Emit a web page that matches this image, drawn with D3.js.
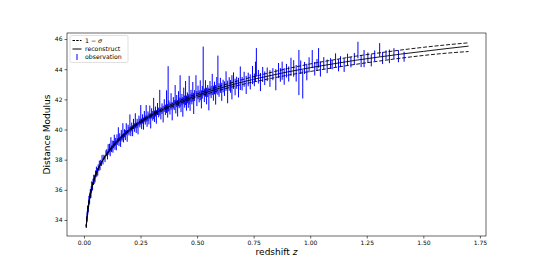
<!DOCTYPE html>
<html>
<head>
<meta charset="utf-8">
<script src="https://cdn.jsdelivr.net/npm/d3@7"></script>
<style>
  body { margin: 0; background: #fff; }
  text { font-family: "DejaVu Sans", sans-serif; }
</style>
</head>
<body>
<div class="chart"></div>
<script>
// reconstructed curve and 1-sigma band
const recZ  = [0.010,0.012,0.015,0.020,0.025,0.030,0.040,0.050,0.060,0.070,0.080,0.100,0.125,0.150,0.200,0.250,0.300,0.350,0.400,0.500,0.600,0.700,0.800,0.900,1.000,1.100,1.200,1.300,1.400,1.500,1.600,1.700];
const recMu = [33.56,33.92,34.38,34.98,35.44,35.82,36.44,36.91,37.29,37.61,37.89,38.36,38.85,39.27,39.96,40.51,40.96,41.34,41.68,42.26,42.74,43.15,43.50,43.82,44.10,44.35,44.59,44.80,45.00,45.18,45.36,45.53];
const recUp = [33.60,33.96,34.42,35.02,35.48,35.86,36.48,36.95,37.33,37.65,37.93,38.41,38.90,39.33,40.02,40.58,41.03,41.42,41.77,42.37,42.87,43.31,43.69,44.04,44.35,44.61,44.86,45.07,45.27,45.45,45.61,45.75];
const recLo = [33.52,33.88,34.34,34.94,35.40,35.78,36.40,36.87,37.25,37.57,37.85,38.31,38.80,39.21,39.90,40.44,40.89,41.26,41.59,42.15,42.61,42.99,43.31,43.60,43.85,44.09,44.32,44.53,44.73,44.91,45.06,45.17];

// observations: redshift, distance modulus, error
const obsZ = [
  0.010,0.011,0.012,0.013,0.014,0.015,0.016,0.017,0.018,0.019,0.020,0.021,0.022,0.023,0.024,0.025,0.026,0.027,0.028,0.029,
  0.030,0.031,0.032,0.033,0.034,0.036,0.037,0.038,0.040,0.042,0.043,0.045,0.047,0.049,0.051,0.053,0.055,0.057,0.059,0.061,
  0.063,0.066,0.068,0.071,0.074,0.077,0.080,0.084,0.088,0.093,0.097,
  0.101,0.104,0.107,0.110,0.113,0.116,0.119,0.122,0.125,0.128,0.131,0.134,0.137,0.140,0.143,0.146,0.149,0.152,0.155,0.158,
  0.162,0.165,0.168,0.172,0.175,0.179,0.183,0.187,0.191,0.195,0.199,0.203,0.207,0.211,0.215,0.219,0.223,0.227,0.231,0.235,
  0.239,0.243,0.247,0.251,0.255,0.259,0.263,0.267,0.271,0.275,0.279,0.283,0.287,0.291,0.295,0.299,0.304,0.308,0.312,0.316,
  0.320,0.325,0.330,0.335,0.340,0.345,0.350,0.355,0.360,0.365,0.370,0.372,0.375,0.380,0.385,0.390,0.395,0.399,
  0.403,0.406,0.410,0.414,0.418,0.421,0.425,0.429,0.433,0.437,0.441,0.445,0.449,0.453,0.457,0.461,0.465,0.469,0.473,0.477,
  0.481,0.485,0.489,0.495,0.499,0.504,0.509,0.514,0.519,0.523,0.527,0.532,0.537,0.542,0.547,0.552,0.557,0.562,0.567,0.572,
  0.577,0.582,0.587,0.592,0.597,0.603,0.609,0.615,0.621,0.628,0.635,0.642,0.648,0.654,0.661,0.668,0.675,0.683,0.691,0.699,
  0.708,0.717,0.726,0.735,0.745,0.753,0.758,0.762,0.771,0.780,0.790,0.799,
  0.810,0.822,0.835,0.848,0.860,0.868,0.876,0.885,0.895,0.905,0.915,0.927,0.938,0.950,0.958,0.967,0.975,0.985,0.995,1.009,
  1.020,1.030,1.037,1.045,
  1.060,1.075,1.090,1.097,1.112,1.125,1.134,1.150,1.165,1.180,1.195,1.211,1.225,1.238,1.255,1.270,1.285,1.307,1.320,1.335,
  1.350,1.370,1.390,1.415
];
const obsMu = [
  33.61,33.65,34.04,33.99,34.37,34.33,34.71,34.51,34.82,34.72,35.08,35.02,35.36,35.17,35.41,35.30,35.64,35.57,35.83,35.62,
  35.86,35.70,36.05,35.97,36.30,36.11,36.34,36.18,36.56,36.48,36.78,36.58,36.85,36.71,37.09,36.99,37.30,37.06,37.29,37.17,
  37.50,37.41,37.71,37.51,37.81,37.74,38.07,37.87,38.16,38.06,38.42,
  38.48,38.27,38.73,38.52,38.78,38.49,39.04,38.72,38.97,38.74,39.01,39.26,38.94,39.19,38.94,39.38,39.20,39.65,39.20,39.49,
  39.20,39.65,39.45,39.87,39.45,39.75,39.63,40.02,39.57,40.02,39.89,40.40,39.89,40.17,39.92,40.37,40.13,40.58,40.12,40.41,
  40.10,40.59,40.43,40.97,40.38,40.70,40.39,40.87,40.63,41.07,40.56,40.88,40.70,41.14,40.57,41.07,40.91,41.40,40.88,41.19,
  40.84,41.36,41.13,41.78,41.07,41.38,41.02,41.59,41.31,41.85,41.24,42.70,41.57,41.40,41.86,41.21,41.77,41.62,
  42.35,41.52,41.89,41.41,42.04,41.76,42.55,41.63,41.98,41.50,42.23,41.85,42.42,41.75,42.10,41.89,42.61,41.79,42.23,42.05,
  42.50,41.73,42.25,42.95,42.05,42.46,42.20,42.60,42.00,42.47,43.90,42.27,42.72,42.22,42.55,42.02,42.74,42.48,42.99,42.41,
  42.75,42.30,42.93,43.60,42.62,42.93,42.50,42.88,42.71,43.21,42.49,43.02,42.86,42.80,43.24,42.82,43.10,42.78,43.40,43.04,
  43.33,42.96,43.32,43.16,43.61,43.29,43.85,44.45,43.50,43.15,43.65,43.40,
  43.66,43.38,43.67,43.30,43.91,43.62,43.90,43.52,43.90,43.68,44.16,44.05,43.73,43.78,44.13,43.00,44.08,43.81,44.29,44.67,
  44.03,44.28,44.75,44.01,
  44.40,44.19,44.38,44.29,44.60,44.26,44.51,44.27,44.63,44.47,44.68,45.27,44.54,44.70,44.76,44.59,44.89,45.28,44.74,44.95,
  44.85,45.04,44.86,44.83
];
const obsErr = [
  0.12,0.15,0.18,0.14,0.20,0.16,0.22,0.15,0.18,0.20,0.17,0.15,0.24,0.16,0.19,0.21,0.18,0.15,0.22,0.17,
  0.16,0.23,0.18,0.15,0.26,0.17,0.16,0.20,0.18,0.16,0.22,0.19,0.15,0.21,0.19,0.16,0.24,0.18,0.16,0.22,
  0.19,0.17,0.23,0.20,0.18,0.16,0.25,0.19,0.17,0.22,0.20,
  0.22,0.25,0.30,0.20,0.28,0.26,0.45,0.22,0.30,0.27,0.24,0.40,0.28,0.25,0.32,0.30,0.22,0.50,0.30,0.26,
  0.35,0.32,0.24,0.55,0.30,0.27,0.33,0.40,0.38,0.30,0.28,0.60,0.33,0.29,0.36,0.34,0.28,0.50,0.35,0.30,
  0.42,0.33,0.29,0.65,0.35,0.31,0.40,0.36,0.30,0.55,0.38,0.32,0.36,0.45,0.50,0.34,0.32,0.70,0.38,0.33,
  0.45,0.40,0.32,0.85,0.40,0.35,0.55,0.42,0.34,0.75,0.45,1.50,0.36,0.40,0.55,0.60,0.38,0.33,
  0.60,0.45,0.40,0.55,0.50,0.35,1.05,0.48,0.38,0.65,0.55,0.40,0.80,0.50,0.36,0.45,0.95,0.55,0.40,0.38,
  0.65,0.70,0.36,0.65,0.50,0.45,0.40,0.66,0.60,0.42,1.60,0.45,0.55,0.55,0.40,0.75,0.48,0.40,0.70,0.50,
  0.42,0.65,0.55,1.30,0.45,0.50,0.60,0.42,0.48,0.65,0.75,0.45,0.42,0.80,0.55,0.55,0.40,0.65,0.78,0.45,
  0.50,0.60,0.45,0.50,0.60,0.42,0.65,0.95,0.45,0.60,0.50,0.45,
  0.45,0.55,0.40,0.70,0.50,0.45,0.60,0.55,0.45,0.50,0.60,0.55,0.55,1.50,0.45,0.94,0.40,0.55,0.50,0.60,
  0.45,0.40,0.65,0.50,
  0.40,0.45,0.35,0.30,0.45,0.40,0.35,0.45,0.40,0.35,0.40,0.55,0.40,0.57,0.35,0.40,0.35,0.45,0.40,0.30,
  0.45,0.35,0.40,0.33
];

const xTicks = [0, 0.25, 0.5, 0.75, 1.0, 1.25, 1.5, 1.75];
const yTicks = [34, 36, 38, 40, 42, 44, 46];

//SET UP for svg wrapper
let svgWidth = 540;
let svgHeight = 270;
const margin = {top: 33, right: 54, bottom: 34, left: 67};
let chartWidth = svgWidth - margin.left - margin.right;
let chartHeight = svgHeight - margin.top - margin.bottom;

let svg = d3.select(".chart")
            .append("svg")
            .attr("width", svgWidth)
            .attr("height", svgHeight);

let chart = svg.append("g")
               .attr("transform", `translate(${margin.left},${margin.top})`);

//scales
let xScale = d3.scaleLinear()
               .domain([-0.075, 1.777])
               .range([0, chartWidth]);
let yScale = d3.scaleLinear()
               .domain([32.94, 46.4])
               .range([chartHeight, 0]);

//error bars for the observations
chart.append("g")
     .selectAll("line")
     .data(obsZ.map((z, i) => ({z: z, mu: obsMu[i], err: obsErr[i]})))
     .enter().append("line")
     .attr("x1", d => xScale(d.z))
     .attr("x2", d => xScale(d.z))
     .attr("y1", d => yScale(d.mu - d.err))
     .attr("y2", d => yScale(d.mu + d.err))
     .attr("stroke", "#0000ff")
     .attr("stroke-width", 1);

//reconstruct + 1 sigma lines on top
const lineOf = arr => d3.line()
    .x((d, i) => xScale(recZ[i]))
    .y((d, i) => yScale(arr[i]))
    .curve(d3.curveMonotoneX)(arr);

[recUp, recLo].forEach(arr => {
  chart.append("path")
       .attr("d", lineOf(arr))
       .attr("fill", "none")
       .attr("stroke", "#000")
       .attr("stroke-width", 0.9)
       .attr("stroke-dasharray", "4,1.8");
});
chart.append("path")
     .attr("d", lineOf(recMu))
     .attr("fill", "none")
     .attr("stroke", "#000")
     .attr("stroke-width", 0.9);

//axes
let bottomAxis = d3.axisBottom(xScale)
                   .tickValues(xTicks)
                   .tickFormat(d3.format(".2f"))
                   .tickSizeOuter(0)
                   .tickSize(2.5)
                   .tickPadding(2);
let leftAxis = d3.axisLeft(yScale)
                 .tickValues(yTicks)
                 .tickFormat(d3.format("d"))
                 .tickSizeOuter(0)
                 .tickSize(2.5)
                 .tickPadding(2);

chart.append("g")
     .attr("transform", `translate(0,${chartHeight})`)
     .call(bottomAxis)
     .call(g => g.select(".domain").remove());
chart.append("g")
     .call(leftAxis)
     .call(g => g.select(".domain").remove());

chart.selectAll(".tick text")
     .attr("font-family", "DejaVu Sans")
     .attr("font-size", 6)
     .attr("fill", "#000");
chart.selectAll(".tick line")
     .attr("stroke", "#000")
     .attr("stroke-width", 0.6);

//frame
chart.append("rect")
     .attr("width", chartWidth)
     .attr("height", chartHeight)
     .attr("fill", "none")
     .attr("stroke", "#000")
     .attr("stroke-width", 0.6);

//axis labels
svg.append("text")
   .attr("x", margin.left + chartWidth / 2)
   .attr("y", 255)
   .attr("text-anchor", "middle")
   .attr("font-size", 9)
   .html('redshift <tspan font-style="italic">z</tspan>');

svg.append("text")
   .attr("transform", `translate(50,${margin.top + chartHeight / 2}) rotate(-90)`)
   .attr("text-anchor", "middle")
   .attr("font-size", 9)
   .text("Distance Modulus");

//legend
let legend = chart.append("g").attr("transform", "translate(3,2.5)");
legend.append("rect")
      .attr("width", 58)
      .attr("height", 27)
      .attr("rx", 1.5)
      .attr("fill", "#fff")
      .attr("fill-opacity", 0.8)
      .attr("stroke", "#ccc")
      .attr("stroke-width", 0.6);

legend.append("line").attr("x1", 2.5).attr("x2", 11.5).attr("y1", 5).attr("y2", 5)
      .attr("stroke", "#000").attr("stroke-width", 1).attr("stroke-dasharray", "2.5,1.2");
legend.append("line").attr("x1", 2.5).attr("x2", 11.5).attr("y1", 13.5).attr("y2", 13.5)
      .attr("stroke", "#000").attr("stroke-width", 1);
legend.append("line").attr("x1", 7).attr("x2", 7).attr("y1", 18.5).attr("y2", 24.5)
      .attr("stroke", "#0000ff").attr("stroke-width", 1);

const legendRows = [
  {y: 7.2, html: '1 − <tspan font-style="italic">σ</tspan>'},
  {y: 15.7, html: 'reconstruct'},
  {y: 23.7, html: 'observation'}
];
legend.selectAll("text.lbl")
      .data(legendRows)
      .enter().append("text")
      .attr("class", "lbl")
      .attr("x", 15)
      .attr("y", d => d.y)
      .attr("font-size", 6.2)
      .html(d => d.html);
</script>
</body>
</html>
